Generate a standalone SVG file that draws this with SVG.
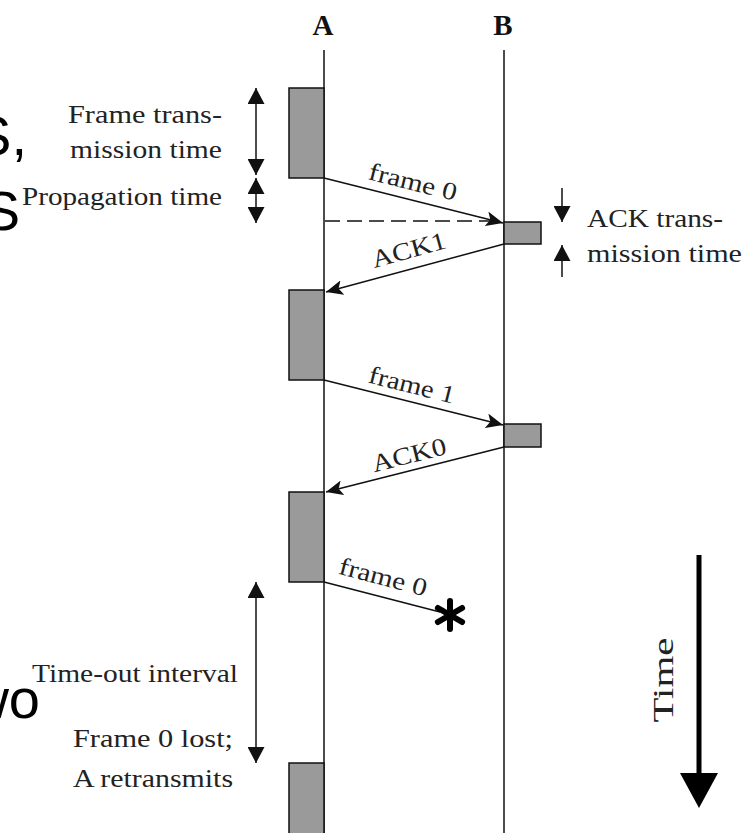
<svg xmlns="http://www.w3.org/2000/svg" width="753" height="833" viewBox="0 0 753 833">
<style>
.t{font-family:"Liberation Serif","Times New Roman",serif;font-size:25px;fill:#222}
.big{font-family:"Liberation Sans",Arial,sans-serif;font-size:56px;fill:#000}
.hdr{font-family:"Liberation Serif","Times New Roman",serif;font-size:29px;font-weight:bold;fill:#111}
.box{fill:#9a9a9a;stroke:#111;stroke-width:1.5}
.ln{stroke:#111;stroke-width:1.5;fill:none}
.ar{stroke:#111;stroke-width:1.5;fill:none;marker-end:url(#ah)}
.dbl{stroke:#111;stroke-width:1.5;fill:none;marker-start:url(#vh);marker-end:url(#vh)}
</style>
<defs>
<marker id="ah" markerUnits="userSpaceOnUse" markerWidth="18" markerHeight="15" refX="17" refY="7.5" orient="auto">
<path d="M0,0 L17,7.5 L0,15 L4,7.5 z" fill="#111"/>
</marker>
<marker id="vh" markerUnits="userSpaceOnUse" markerWidth="16" markerHeight="17" refX="16" refY="8.5" orient="auto-start-reverse">
<path d="M0,0 L16,8.5 L0,17 z" fill="#111"/>
</marker>
<marker id="vh1" markerUnits="userSpaceOnUse" markerWidth="16" markerHeight="17" refX="16" refY="8.5" orient="auto">
<path d="M0,0 L16,8.5 L0,17 z" fill="#111"/>
</marker>
</defs>
<rect width="753" height="833" fill="#fff"/>

<g id="slide-text">
<text class="big" x="27" y="155" text-anchor="end">S,</text>
<text class="big" x="20" y="230" text-anchor="end">S</text>
<text class="big" x="40" y="718" text-anchor="end">wo</text>
</g>

<g id="station-A">
<text class="hdr" x="323" y="35" text-anchor="middle">A</text>
<line class="ln" x1="324" y1="50" x2="324" y2="833"/>
</g>
<g id="station-B">
<text class="hdr" x="503" y="35" text-anchor="middle">B</text>
<line class="ln" x1="504" y1="50" x2="504" y2="833"/>
</g>

<g id="frame-box-1"><rect class="box" x="289" y="88" width="35" height="90"/></g>
<g id="ack-box-1"><rect class="box" x="504" y="222" width="37" height="22"/></g>
<g id="frame-box-2"><rect class="box" x="289" y="290" width="35" height="90"/></g>
<g id="ack-box-2"><rect class="box" x="504" y="424" width="37" height="23"/></g>
<g id="frame-box-3"><rect class="box" x="289" y="492" width="35" height="90"/></g>
<g id="frame-box-4"><rect class="box" x="289" y="763" width="35" height="75"/></g>

<g id="connectors">
<line class="ar" x1="324" y1="178" x2="503" y2="223"/>
<line class="ln" x1="325" y1="221" x2="500" y2="221" stroke-dasharray="15,7"/>
<line class="ar" x1="504" y1="244" x2="326" y2="292"/>
<line class="ar" x1="324" y1="380" x2="503" y2="425"/>
<line class="ar" x1="504" y1="447" x2="326" y2="492"/>
<line class="ln" x1="324" y1="582" x2="440" y2="612"/>
<g id="lost-mark" stroke="#000" stroke-width="6" stroke-linecap="round">
<line x1="450" y1="601" x2="450" y2="629"/>
<line x1="437.9" y1="608" x2="462.1" y2="622"/>
<line x1="437.9" y1="622" x2="462.1" y2="608"/>
</g>
<line class="dbl" x1="256" y1="88" x2="256" y2="175"/>
<line class="dbl" x1="256" y1="178" x2="256" y2="223"/>
<line class="dbl" x1="256" y1="582" x2="256" y2="763"/>
<line class="ln" x1="562" y1="188" x2="562" y2="222" marker-end="url(#vh1)"/>
<line class="ln" x1="562" y1="277" x2="562" y2="245" marker-end="url(#vh1)"/>
<line x1="699" y1="555" x2="699" y2="776" stroke="#000" stroke-width="5"/>
<polygon points="680,773 718,773 699,808" fill="#000"/>
</g>

<g id="labels">
<text class="t" x="222" y="123" text-anchor="end" textLength="154" lengthAdjust="spacingAndGlyphs">Frame trans-</text>
<text class="t" x="222" y="158" text-anchor="end" textLength="152" lengthAdjust="spacingAndGlyphs">mission time</text>
<text class="t" x="222" y="205" text-anchor="end" textLength="200" lengthAdjust="spacingAndGlyphs">Propagation time</text>
<text class="t" x="587" y="227" textLength="136" lengthAdjust="spacingAndGlyphs">ACK trans-</text>
<text class="t" x="587" y="262" textLength="155" lengthAdjust="spacingAndGlyphs">mission time</text>
<text class="t" x="238" y="682" text-anchor="end" textLength="206" lengthAdjust="spacingAndGlyphs">Time-out interval</text>
<text class="t" x="233" y="747" text-anchor="end" textLength="160" lengthAdjust="spacingAndGlyphs">Frame 0 lost;</text>
<text class="t" x="233" y="787" text-anchor="end" textLength="160" lengthAdjust="spacingAndGlyphs">A retransmits</text>
<text class="t" x="411" y="190" text-anchor="middle" textLength="90" lengthAdjust="spacingAndGlyphs" transform="rotate(14 411 190)">frame 0</text>
<text class="t" x="411" y="258" text-anchor="middle" textLength="76" lengthAdjust="spacingAndGlyphs" transform="rotate(-15.4 411 258)">ACK1</text>
<text class="t" x="410" y="393" text-anchor="middle" textLength="88" lengthAdjust="spacingAndGlyphs" transform="rotate(14 410 393)">frame 1</text>
<text class="t" x="411" y="463" text-anchor="middle" textLength="76" lengthAdjust="spacingAndGlyphs" transform="rotate(-14 411 463)">ACK0</text>
<text class="t" x="381" y="585" text-anchor="middle" textLength="90" lengthAdjust="spacingAndGlyphs" transform="rotate(14.7 381 585)">frame 0</text>
<text class="t" x="0" y="0" text-anchor="middle" textLength="85" lengthAdjust="spacingAndGlyphs" style="font-size:29px" transform="translate(673 680) rotate(-90)">Time</text>
</g>
</svg>
